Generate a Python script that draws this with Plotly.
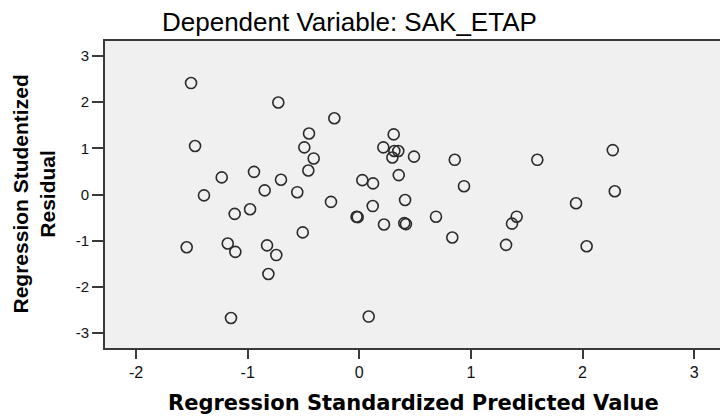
import plotly.graph_objects as go

# Regression Standardized Predicted Value (x) and Studentized Residual (y)
predicted = [-1.508, -0.726, -0.224, -1.472, -0.451, -0.493, -0.409, -0.457, 0.308, 0.215,
             0.314, 0.349, 0.296, 0.490, 0.353, -1.233, -0.944, -0.702, -0.848, -0.556,
             0.027, 0.123, -1.392, 0.855, 1.595, 2.271, 0.938, 2.289, -0.254, 0.120,
             0.410, -1.117, -0.979, -0.025, -0.015, 0.221, 0.403, 0.418, -0.507, -1.547,
             -1.179, -1.111, -0.827, -0.744, -0.815, -1.150, 0.084, 1.942, 0.687, 0.833,
             1.410, 1.368, 1.315, 2.037]
residual = [2.41, 1.99, 1.65, 1.05, 1.32, 1.02, 0.78, 0.52, 1.30, 1.02,
            0.94, 0.94, 0.80, 0.82, 0.42, 0.37, 0.49, 0.32, 0.09, 0.05,
            0.31, 0.24, -0.02, 0.75, 0.75, 0.96, 0.18, 0.07, -0.16, -0.25,
            -0.12, -0.42, -0.32, -0.48, -0.49, -0.65, -0.62, -0.64, -0.82, -1.14,
            -1.06, -1.24, -1.10, -1.31, -1.72, -2.67, -2.64, -0.19, -0.48, -0.93,
            -0.48, -0.63, -1.09, -1.12]

x_ticks = [-2, -1, 0, 1, 2, 3]
y_ticks = [-3, -2, -1, 0, 1, 2, 3]

title_text = "Dependent Variable: SAK_ETAP"
x_title = "Regression Standardized Predicted Value"
y_title = "Regression Studentized<br>Residual"

FONT = "Liberation Sans, Arial, sans-serif"
WIDE = "DejaVu Sans, Verdana, sans-serif"
AXC = "#3a3a3a"

fig = go.Figure()
fig.add_trace(go.Scatter(
    x=predicted, y=residual, mode="markers",
    marker=dict(symbol="circle-open", size=11, color="#2b2b2b", line=dict(width=1.6)),
    showlegend=False, hoverinfo="x+y",
))

fig.update_layout(
    width=720, height=416,
    margin=dict(l=105, r=0, t=41, b=68),
    paper_bgcolor="white", plot_bgcolor="#f0f0f0",
    font=dict(family=FONT, color="black"),
    showlegend=False,
    annotations=[
        dict(text=title_text, xref="paper", yref="paper", x=0.397, y=1.0, yshift=19,
             xanchor="center", yanchor="middle", showarrow=False,
             font=dict(size=26, family=FONT, color="black")),
        dict(text=x_title, xref="paper", yref="paper", x=0.502, y=0.0, yshift=-55,
             xanchor="center", yanchor="middle", showarrow=False,
             font=dict(size=21, family=WIDE, color="black", weight="bold")),
        dict(text=y_title, xref="paper", yref="paper", x=0.0, y=0.5, xshift=-72,
             xanchor="center", yanchor="middle", showarrow=False, textangle=-90,
             font=dict(size=21, family=FONT, color="black", weight="bold")),
    ],
)

fig.update_xaxes(
    range=[-2.279, 3.232], tickvals=x_ticks, ticktext=[str(t) for t in x_ticks],
    showgrid=False, zeroline=False,
    showline=True, linecolor=AXC, linewidth=2, mirror=True,
    ticks="outside", ticklen=9, tickwidth=2, tickcolor=AXC,
    tickfont=dict(size=16, family=FONT, color="#111"),
)
fig.update_yaxes(
    range=[-3.32, 3.32], tickvals=y_ticks, ticktext=[str(t) for t in y_ticks],
    showgrid=False, zeroline=False,
    showline=True, linecolor=AXC, linewidth=2, mirror=False,
    ticks="outside", ticklen=11, tickwidth=2, tickcolor=AXC,
    tickfont=dict(size=15, family=FONT, color="#111"),
)

fig.write_html("out.html", config={"displayModeBar": False},
               post_script="document.body.style.margin='0';document.body.style.overflow='hidden';")
